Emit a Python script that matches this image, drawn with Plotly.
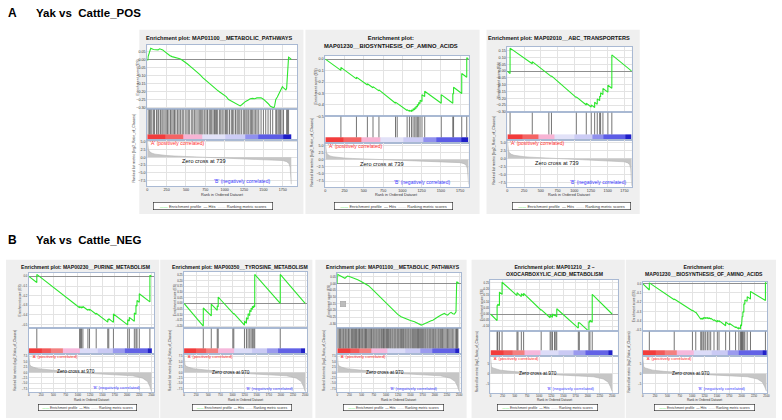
import plotly.graph_objects as go

W, H = 782, 420
FONT = "Liberation Sans, Arial, sans-serif"

# ------------------------------------------------------------------ data
header_a = "Yak vs  Cattle_POS"
header_b = "Yak vs  Cattle_NEG"
zero_cross_a = 739
zero_cross_b = 970

# ranked list metric (anchor points)
a_metric_rank = [0, 3, 8, 15, 30, 60, 100, 160, 250, 350, 480, 600, 739, 900, 1100, 1300, 1500, 1650, 1750, 1800, 1830, 1845, 1855, 1860]
a_metric_value = [5.8, 4.0, 3.0, 2.4, 1.8, 1.3, 1.0, 0.75, 0.55, 0.4, 0.27, 0.15, 0.0, -0.15, -0.3, -0.45, -0.62, -0.8, -1.05, -1.4, -2.0, -3.2, -5.5, -8.6]
b_metric_rank = [0, 5, 20, 50, 90, 200, 425, 600, 763, 970, 1200, 1500, 1800, 2115, 2318, 2419, 2466, 2486, 2500]
b_metric_value = [8.3, 5.5, 3.5, 2.9, 2.5, 1.8, 1.2, 0.8, 0.5, 0.0, -0.35, -0.7, -1.05, -1.5, -2.6, -4.2, -6.5, -8.5, -8.7]

# phenotype colour bar bands
a_band_edges = [0, 230, 464, 708, 1009, 1266, 1438, 1760, 1860]
a_band_colors = ['#f23c3c', '#f46464', '#f7b4d4', '#e2e2f8', '#ccccf5', '#9090ee', '#5c5ce6', '#1e1ec8']
b_band_edges = [0, 257, 450, 696, 1034, 1400, 1709, 1946, 2419, 2500]
b_band_colors = ['#f23c3c', '#f25a5a', '#f38080', '#f6b8dc', '#dcdcf8', '#cacaf4', '#9a9aee', '#6262e6', '#2222c8']

# A1  MAP01100 metabolic pathways
a1_title = "Enrichment plot: MAP01100__METABOLIC_PATHWAYS"
a1_es_rank = [0, 8, 12, 30, 45, 80, 100, 115, 140, 160, 185, 200, 230, 260, 290, 320, 350, 380, 420, 440, 480, 520, 560, 600, 640, 680, 720, 765, 800, 850, 900, 940, 980, 1020, 1050, 1080, 1110, 1140, 1170, 1200, 1220, 1240, 1270, 1300, 1330, 1360, 1390, 1415, 1445, 1470, 1500, 1530, 1560, 1590, 1615, 1635, 1645, 1660, 1680, 1700, 1715, 1730, 1745, 1760, 1790, 1800, 1812, 1825, 1835, 1850, 1860]
a1_es = [0.0, -0.005, 0.02, 0.045, 0.07, 0.063, 0.062, 0.058, 0.06, 0.067, 0.064, 0.06, 0.048, 0.035, 0.025, 0.018, 0.015, 0.012, 0.005, 0.0, -0.012, -0.028, -0.045, -0.06, -0.075, -0.095, -0.115, -0.135, -0.15, -0.17, -0.19, -0.205, -0.218, -0.232, -0.25, -0.258, -0.268, -0.275, -0.285, -0.29, -0.283, -0.272, -0.262, -0.255, -0.245, -0.243, -0.245, -0.24, -0.242, -0.24, -0.248, -0.26, -0.275, -0.292, -0.298, -0.302, -0.29, -0.25, -0.235, -0.215, -0.205, -0.185, -0.17, -0.178, -0.19, -0.18, -0.06, 0.015, 0.012, 0.005, 0.0]
a1_hits = [12, 30, 45, 60, 82, 95, 120, 138, 150, 172, 190, 205, 228, 245, 262, 280, 300, 318, 335, 352, 370, 392, 410, 428, 450, 465, 490, 512, 530, 548, 575, 590, 612, 630, 655, 672, 690, 705, 720, 742, 760, 778, 800, 815, 832, 850, 868, 880, 895, 910, 935, 950, 968, 990, 1010, 1025, 1040, 1062, 1085, 1100, 1118, 1140, 1160, 1175, 1195, 1215, 1240, 1258, 1275, 1290, 1310, 1330, 1345, 1362, 1380, 1400, 1418, 1440, 1470, 1500, 1530, 1560, 1590, 1620, 1660, 1672, 1690, 1705, 1720, 1740, 1760, 1800, 1812, 1825]

# A2  MAP01230 biosynthesis of amino acids
a2_title = "Enrichment plot:<br>MAP01230__BIOSYNTHESIS_OF_AMINO_ACIDS"
a2_es_rank = [0, 202, 202, 404, 404, 546, 546, 619, 619, 696, 696, 911, 911, 933, 933, 1062, 1062, 1092, 1092, 1118, 1118, 1139, 1139, 1161, 1161, 1178, 1178, 1195, 1195, 1212, 1212, 1230, 1230, 1255, 1255, 1290, 1290, 1505, 1505, 1655, 1655, 1665, 1665, 1771, 1771, 1836, 1836, 1860]
a2_es = [0.0, -0.098, -0.072, -0.172, -0.157, -0.226, -0.215, -0.25, -0.24, -0.277, -0.268, -0.385, -0.375, -0.386, -0.378, -0.448, -0.44, -0.456, -0.445, -0.458, -0.443, -0.452, -0.433, -0.443, -0.423, -0.431, -0.41, -0.418, -0.395, -0.403, -0.378, -0.387, -0.358, -0.37, -0.31, -0.327, -0.28, -0.385, -0.31, -0.385, -0.30, -0.305, -0.245, -0.3, -0.125, -0.158, 0.013, 0.0]
a2_hits = [202, 404, 546, 619, 696, 911, 933, 1062, 1092, 1118, 1139, 1161, 1178, 1195, 1212, 1230, 1255, 1290, 1505, 1655, 1665, 1771, 1836]

# A3  MAP02010 ABC transporters
a3_title = "Enrichment plot: MAP02010__ABC_TRANSPORTERS"
a3_es_rank = [0, 40, 40, 372, 372, 620, 620, 659, 659, 1031, 1031, 1180, 1180, 1254, 1254, 1305, 1305, 1344, 1344, 1380, 1380, 1394, 1394, 1429, 1429, 1503, 1503, 1562, 1562, 1860]
a3_es = [0.0, -0.018, 0.17, 0.055, 0.07, -0.03, -0.025, -0.04, -0.035, -0.195, -0.19, -0.25, -0.237, -0.265, -0.249, -0.268, -0.23, -0.245, -0.205, -0.218, -0.185, -0.19, -0.16, -0.172, -0.128, -0.155, -0.104, -0.126, 0.12, 0.0]
a3_hits = [40, 372, 620, 659, 1031, 1180, 1254, 1305, 1344, 1380, 1394, 1429, 1503, 1562]

# B1  MAP00230 purine metabolism
b1_title = "Enrichment plot: MAP00230__PURINE_METABOLISM"
b1_es_rank = [0, 162, 162, 1034, 1034, 1074, 1074, 1101, 1101, 1203, 1203, 1236, 1236, 1372, 1372, 1608, 1608, 1628, 1628, 1723, 1723, 2014, 2014, 2047, 2047, 2149, 2149, 2182, 2182, 2203, 2203, 2250, 2250, 2466, 2466, 2500]
b1_es = [0.0, -0.064, 0.02, -0.325, -0.312, -0.328, -0.315, -0.326, -0.312, -0.352, -0.34, -0.353, -0.34, -0.393, -0.383, -0.475, -0.445, -0.453, -0.44, -0.477, -0.39, -0.503, -0.45, -0.463, -0.425, -0.465, -0.38, -0.393, -0.3, -0.308, -0.25, -0.268, -0.18, -0.265, 0.012, 0.0]
b1_hits = [162, 1034, 1054, 1074, 1101, 1203, 1236, 1372, 1608, 1628, 1723, 2014, 2047, 2149, 2182, 2203, 2250, 2466]

# B2  MAP00350 tyrosine metabolism
b2_title = "Enrichment plot: MAP00350__TYROSINE_METABOLISM"
b2_es_rank = [0, 397, 397, 562, 562, 685, 685, 705, 705, 1007, 1007, 1027, 1027, 1247, 1247, 1288, 1288, 1322, 1322, 1356, 1356, 1384, 1384, 1411, 1411, 1438, 1438, 1459, 1459, 1986, 1986, 2500]
b2_es = [0.0, -0.2, -0.04, -0.11, -0.005, -0.06, -0.02, -0.03, 0.057, -0.088, -0.083, -0.093, -0.087, -0.19, -0.155, -0.175, -0.125, -0.14, -0.09, -0.107, -0.06, -0.073, -0.04, -0.053, -0.025, -0.038, -0.02, -0.03, 0.256, 0.0, 0.256, 0.0]
b2_hits = [397, 562, 685, 705, 1007, 1027, 1247, 1288, 1322, 1356, 1384, 1411, 1438, 1459, 1986]

# B3  MAP01100 metabolic pathways
b3_title = "Enrichment plot: MAP01100__METABOLIC_PATHWAYS"
b3_es_rank = [0, 7, 30, 60, 88, 120, 156, 185, 211, 260, 300, 361, 420, 480, 565, 640, 700, 769, 830, 900, 973, 1040, 1110, 1177, 1240, 1310, 1381, 1440, 1500, 1585, 1640, 1690, 1721, 1755, 1800, 1857, 1890, 1925, 1960, 1993, 2060, 2129, 2160, 2197, 2230, 2265, 2300, 2333, 2370, 2401, 2435, 2449, 2475, 2500]
b3_es = [0.0, 0.07, 0.065, 0.06, 0.052, 0.048, 0.04, 0.05, 0.057, 0.052, 0.047, 0.04, 0.03, 0.018, 0.0025, -0.015, -0.035, -0.06, -0.083, -0.107, -0.135, -0.16, -0.185, -0.21, -0.23, -0.247, -0.26, -0.268, -0.276, -0.285, -0.295, -0.303, -0.31, -0.305, -0.297, -0.285, -0.283, -0.278, -0.274, -0.268, -0.25, -0.235, -0.23, -0.223, -0.23, -0.235, -0.222, -0.215, -0.225, -0.228, -0.21, 0.015, 0.008, 0.0]
b3_hits = [10, 35, 52, 70, 95, 118, 135, 160, 178, 200, 225, 240, 262, 290, 310, 330, 352, 375, 392, 410, 438, 455, 472, 500, 520, 545, 565, 580, 600, 625, 648, 670, 690, 705, 730, 750, 772, 795, 815, 838, 860, 880, 905, 925, 948, 965, 985, 1010, 1030, 1050, 1075, 1095, 1120, 1140, 1165, 1185, 1205, 1230, 1250, 1270, 1295, 1318, 1340, 1360, 1385, 1405, 1428, 1450, 1470, 1495, 1515, 1540, 1560, 1580, 1600, 1620, 1640, 1655, 1670, 1690, 1710, 1730, 1750, 1772, 1795, 1815, 1840, 1860, 1885, 1905, 1925, 1950, 1975, 2000, 2020, 2045, 2070, 2090, 2115, 2140, 2160, 2185, 2210, 2235, 2260, 2285, 2310, 2335, 2360, 2390, 2420, 2445, 2460, 2475]

# B4  MAP01210 2-oxocarboxylic acid metabolism
b4_title = "Enrichment plot: MAP01210__2 \u2013<br>OXOCARBOXYLIC_ACID_METABOLISM"
b4_es_rank = [0, 136, 136, 150, 150, 184, 184, 238, 238, 545, 545, 634, 634, 681, 681, 1042, 1042, 1226, 1226, 1274, 1274, 1315, 1315, 1362, 1362, 1805, 1805, 1826, 1826, 2023, 2023, 2044, 2044, 2091, 2091, 2500]
b4_es = [0.0, -0.053, 0.07, 0.065, 0.08, 0.068, 0.176, 0.157, 0.255, 0.148, 0.171, 0.14, 0.163, 0.147, 0.166, 0.03, 0.035, -0.03, -0.008, -0.026, 0.0, -0.015, -0.005, -0.022, 0.042, -0.113, -0.068, -0.075, -0.07, -0.14, -0.06, -0.067, -0.05, -0.066, 0.158, 0.0]
b4_hits = [136, 150, 184, 238, 545, 565, 634, 681, 1042, 1226, 1247, 1274, 1315, 1342, 1362, 1805, 1826, 2023, 2044, 2091]

# B5  MAP01230 biosynthesis of amino acids
b5_title = "Enrichment plot:<br>MAP01230__BIOSYNTHESIS_OF_AMINO_ACIDS"
b5_es_rank = [0, 134, 134, 637, 637, 1005, 1005, 1072, 1072, 1173, 1173, 1193, 1193, 1220, 1220, 1240, 1240, 1273, 1273, 1307, 1307, 1340, 1340, 1374, 1374, 1441, 1441, 1508, 1508, 1542, 1542, 1676, 1676, 1756, 1756, 1877, 1877, 1944, 1944, 1977, 1977, 1997, 1997, 2011, 2011, 2024, 2024, 2044, 2044, 2064, 2064, 2111, 2111, 2178, 2178, 2480, 2480, 2500]
b5_es = [0.0, -0.069, 0.007, -0.172, -0.165, -0.29, -0.285, -0.31, -0.305, -0.38, -0.37, -0.38, -0.37, -0.38, -0.365, -0.372, -0.36, -0.372, -0.36, -0.372, -0.362, -0.375, -0.365, -0.378, -0.37, -0.395, -0.385, -0.41, -0.395, -0.405, -0.395, -0.45, -0.41, -0.44, -0.425, -0.47, -0.46, -0.485, -0.47, -0.48, -0.44, -0.447, -0.4, -0.405, -0.35, -0.355, -0.3, -0.307, -0.215, -0.222, -0.175, -0.19, -0.14, -0.165, -0.085, -0.18, 0.012, 0.0]
b5_hits = [134, 637, 1005, 1072, 1173, 1193, 1220, 1240, 1273, 1307, 1340, 1374, 1441, 1508, 1542, 1676, 1756, 1877, 1944, 1977, 1997, 2011, 2024, 2044, 2064, 2111, 2178, 2480]

# ------------------------------------------------------------------ layout spec (pixels)
A = dict(metric=(a_metric_rank, a_metric_value), bands=(a_band_edges, a_band_colors), zc=zero_cross_a)
B = dict(metric=(b_metric_rank, b_metric_value), bands=(b_band_edges, b_band_colors), zc=zero_cross_b)

panels = [
    dict(grp=A, title=a1_title, es=(a1_es_rank, a1_es), hits=a1_hits, left=147, right=298, es_top=45, es_bot=110, hit_bot=141, cb=0.24, rank_bot=187,
         xr=[0, 1940], esr=[-0.3125, 0.092], esd=0.05, esf='.2f', rr=[-9.2, 5.4], rd=2.5, rf='.1f', title_y=38, title_x=219, tfs=5.6,
         leg_y=207, leg_x=213, leg_w=118, bg=(139, 30, 304, 215), xt_y=196, a_y=144, z_y=162, b_x=242, b_y=182, big=True),
    dict(grp=A, title=a2_title, es=(a2_es_rank, a2_es), hits=a2_hits, left=326, right=470, es_top=56, es_bot=117, hit_bot=144, cb=0.29, rank_bot=188,
         xr=[0, 1860], esr=[-0.5, 0.03], esd=0.1, esf='.1f', rr=[-9.6, 5.7], rd=2.5, rf='.1f', title_y=42.5, title_x=392, tfs=5.8,
         leg_y=207, leg_x=395, leg_w=117, bg=(306, 30, 481, 215), xt_y=196, a_y=146.5, z_y=165, b_x=423, b_y=183, big=True),
    dict(grp=A, title=a3_title, es=(a3_es_rank, a3_es), hits=a3_hits, left=509, right=634, es_top=47, es_bot=113, hit_bot=141, cb=0.27, rank_bot=188,
         xr=[0, 1860], esr=[-0.305, 0.18], esd=0.05, esf='.2f', rr=[-9.0, 5.7], rd=2.5, rf='.1f', title_y=38, title_x=561, tfs=5.6,
         leg_y=207, leg_x=573, leg_w=117, bg=(488, 30, 642, 215), xt_y=196, a_y=144, z_y=164, b_x=600, b_y=183, big=True),
    dict(grp=B, title=b1_title, es=(b1_es_rank, b1_es), hits=b1_hits, left=28, right=154, es_top=274, es_bot=330, hit_bot=356, cb=0.30, rank_bot=394,
         xr=[0, 2554], esr=[-0.54, 0.038], esd=0.1, esf='.1f', rr=[-9.1, 8.5], rd=2.5, rf='.1f', title_y=268, title_x=85, tfs=5.1,
         leg_y=409, leg_x=87, leg_w=97, bg=(5, 261, 159, 420), xt_y=401.5, a_y=358.5, z_y=373.5, b_x=117, b_y=389.5, big=False),
    dict(grp=B, title=b2_title, es=(b2_es_rank, b2_es), hits=b2_hits, left=184, right=308, es_top=273, es_bot=330, hit_bot=356, cb=0.30, rank_bot=394,
         xr=[0, 2547], esr=[-0.22, 0.28], esd=0.05, esf='.2f', rr=[-9.1, 8.5], rd=2.5, rf='.1f', title_y=268, title_x=240, tfs=5.1,
         leg_y=409, leg_x=242, leg_w=98, bg=(160, 261, 313, 420), xt_y=401.5, a_y=358.5, z_y=374, b_x=270, b_y=390, big=False),
    dict(grp=B, title=b3_title, es=(b3_es_rank, b3_es), hits=b3_hits, left=338, right=462, es_top=274, es_bot=330, hit_bot=356, cb=0.30, rank_bot=394,
         xr=[0, 2530], esr=[-0.335, 0.082], esd=0.05, esf='.2f', rr=[-9.1, 8.5], rd=2.5, rf='.1f', title_y=268, title_x=394, tfs=5.1,
         leg_y=409, leg_x=395, leg_w=99, bg=(316, 261, 468, 420), xt_y=401.5, a_y=358.5, z_y=374, b_x=415, b_y=390, big=False),
    dict(grp=B, title=b4_title, es=(b4_es_rank, b4_es), hits=b4_hits, left=492, right=620, es_top=281, es_bot=333, hit_bot=358, cb=0.32, rank_bot=395,
         xr=[0, 2617], esr=[-0.14, 0.276], esd=0.05, esf='.2f', rr=[-9.65, 8.7], rd=5, rf='.0f', title_y=272, title_x=556, tfs=5.1,
         leg_y=409, leg_x=549, leg_w=99, bg=(473, 261, 627, 420), xt_y=402, a_y=360.5, z_y=375, b_x=573, b_y=390, big=False),
    dict(grp=B, title=b5_title, es=(b5_es_rank, b5_es), hits=b5_hits, left=645, right=770, es_top=283, es_bot=333, hit_bot=358, cb=0.32, rank_bot=395,
         xr=[0, 2513], esr=[-0.51, 0.02], esd=0.1, esf='.1f', rr=[-9.65, 8.7], rd=5, rf='.0f', title_y=271.5, title_x=707, tfs=5.1,
         leg_y=409, leg_x=707, leg_w=99, bg=(628, 261, 779, 420), xt_y=402, a_y=360.5, z_y=375.5, b_x=725, b_y=390.5, big=False),
]

BORDER = '#a9b9d3'
GRID = '#e3e3e3'


def px(x):
    return x / W


def py(y):
    return 1 - y / H


fig = go.Figure()
axes = {}
shapes = []
ann = []

for i, p in enumerate(panels):
    g = p['grp']
    big = p['big']
    tickf = dict(family=FONT, size=3.7 if big else 2.8, color='#333333')
    ks = [3 * i + 1, 3 * i + 2, 3 * i + 3]
    sfx = ['' if k == 1 else str(k) for k in ks]
    tops = [p['es_top'], p['es_bot'], p['hit_bot']]
    bots = [p['es_bot'], p['hit_bot'], p['rank_bot']]

    # panel background + white plot area
    x0, y0, x1, y1 = p['bg']
    shapes.append(dict(type='rect', xref='paper', yref='paper', x0=px(x0), x1=px(x1), y0=py(y1), y1=py(y0),
                       fillcolor='#efefef', line=dict(width=0), layer='below'))
    shapes.append(dict(type='rect', xref='paper', yref='paper', x0=px(p['left']), x1=px(p['right']),
                       y0=py(p['rank_bot']), y1=py(p['es_top']), fillcolor='white', line=dict(width=0), layer='below'))

    for j in range(3):
        s = sfx[j]
        xa = dict(domain=[px(p['left']), px(p['right'])], range=p['xr'], anchor='y' + s, showline=True, mirror=True,
                  linecolor=BORDER, linewidth=0.8, zeroline=False, ticks='', tick0=0, dtick=250, showgrid=(j != 1),
                  gridcolor=GRID, gridwidth=0.6, showticklabels=(j == 2), tickfont=tickf, tickangle=0, fixedrange=True)
        ya = dict(domain=[py(bots[j]), py(tops[j])], anchor='x' + s, showline=True, mirror=True, linecolor=BORDER,
                  linewidth=0.8, ticks='', fixedrange=True, tickfont=tickf)
        if j == 0:
            ya.update(range=p['esr'], dtick=p['esd'], tick0=0, tickformat=p['esf'], showgrid=True, gridcolor=GRID,
                      gridwidth=0.6, zeroline=True, zerolinecolor='#8f8f8f', zerolinewidth=0.8)
        elif j == 1:
            ya.update(range=[-p['cb'], 1], showgrid=False, zeroline=False, showticklabels=False)
        else:
            ya.update(range=p['rr'], dtick=p['rd'], tick0=0, tickformat=p['rf'], showgrid=True, gridcolor=GRID,
                      gridwidth=0.6, zeroline=False)
        axes['xaxis' + s] = xa
        axes['yaxis' + s] = ya

    # enrichment profile
    fig.add_trace(go.Scatter(x=p['es'][0], y=p['es'][1], mode='lines', line=dict(color='#2ee62e', width=1.1),
                             xaxis='x' + sfx[0], yaxis='y' + sfx[0], showlegend=False, hoverinfo='skip'))
    # hits
    hx, hy = [], []
    for h in p['hits']:
        hx += [h, h, None]
        hy += [0, 1, None]
    fig.add_trace(go.Scatter(x=hx, y=hy, mode='lines', line=dict(color='#3a3a3a', width=0.7),
                             xaxis='x' + sfx[1], yaxis='y' + sfx[1], showlegend=False, hoverinfo='skip'))
    # colour bar
    edges, cols = g['bands']
    n = len(cols)
    fig.add_trace(go.Heatmap(x=edges, y=[-p['cb'], 0], z=[list(range(n))], zmin=0, zmax=n - 1,
                             colorscale=[[k / (n - 1), c] for k, c in enumerate(cols)], showscale=False,
                             xaxis='x' + sfx[1], yaxis='y' + sfx[1], hoverinfo='skip'))
    # ranked list metric
    mr, mv = g['metric']
    fig.add_trace(go.Scatter(x=mr, y=mv, mode='lines', fill='tozeroy', fillcolor='#c6c6c6',
                             line=dict(color='#b4b4b4', width=0.6), xaxis='x' + sfx[2], yaxis='y' + sfx[2],
                             showlegend=False, hoverinfo='skip'))

    lab = 5.0 if big else 4.2
    zfs = 5.6 if big else 4.8
    # title
    ann.append(dict(text='<b>' + p['title'] + '</b>', x=px(p['title_x']), y=py(p['title_y']), xref='paper', yref='paper',
                    showarrow=False, xanchor='center', yanchor='middle', font=dict(family=FONT, size=p['tfs'], color='#111')))
    # y titles
    ann.append(dict(text='Enrichment score (ES)', x=px(p['left'] - 9), y=py((p['es_top'] + p['es_bot']) / 2),
                    xref='paper', yref='paper', showarrow=False, textangle=-90, xanchor='center', yanchor='middle',
                    font=dict(family=FONT, size=3.6 if big else 3.2, color='#333')))
    ann.append(dict(text='Ranked list metric (log2_Ratio_of_Classes)', x=px(p['left'] - 13.5),
                    y=py((p['es_bot'] + p['rank_bot']) / 2), xref='paper', yref='paper', showarrow=False,
                    textangle=-90, xanchor='center', yanchor='middle', font=dict(family=FONT, size=3.6 if big else 3.2, color='#333')))
    # x title
    ann.append(dict(text='Rank in Ordered Dataset', x=px((p['left'] + p['right']) / 2), y=py(p['xt_y']),
                    xref='paper', yref='paper', showarrow=False, xanchor='center', yanchor='middle',
                    font=dict(family=FONT, size=3.8 if big else 3.2, color='#333')))
    # rank plot texts
    ann.append(dict(text="'A' (positively correlated)", x=px(p['left'] + 1), y=py(p['a_y']), xref='paper', yref='paper',
                    showarrow=False, xanchor='left', yanchor='middle', font=dict(family=FONT, size=lab, color='#ff2a2a')))
    zx = p['left'] + (p['right'] - p['left']) * g['zc'] / p['xr'][1]
    ann.append(dict(text='Zero cross at %d' % g['zc'], x=px(zx), y=py(p['z_y']), xref='paper', yref='paper',
                    showarrow=False, xanchor='center', yanchor='middle', font=dict(family=FONT, size=zfs, color='#111')))
    ann.append(dict(text="'B' (negatively correlated)", x=px(p['b_x']), y=py(p['b_y']), xref='paper', yref='paper',
                    showarrow=False, xanchor='center', yanchor='middle', font=dict(family=FONT, size=lab, color='#3a3aff')))
    # legend box
    ann.append(dict(text="<span style='color:#22dd22'>\u2014\u2014</span> Enrichment profile  "
                         "<span style='color:#222222'>\u2014</span> Hits  "
                         "<span style='color:#c4c4c4'>\u2014\u2014</span> Ranking metric scores",
                    x=px(p['leg_x']), y=py(p['leg_y']), xref='paper', yref='paper', showarrow=False,
                    xanchor='center', yanchor='middle', width=p['leg_w'], height=6 if big else 5,
                    bgcolor='white', bordercolor='#222', borderwidth=0.6, borderpad=0.5,
                    font=dict(family=FONT, size=4.0 if big else 3.4, color='#333')))

# small grey label box in B3 ES panel
ann.append(dict(text='&nbsp;&nbsp;&nbsp;&nbsp;&nbsp;', x=px(343.5), y=py(308), xref='paper', yref='paper', showarrow=False,
                bgcolor='#bdbdbd', bordercolor='#9a9a9a', borderwidth=0.4, font=dict(family=FONT, size=2.5)))

# section headers
for lab_txt, hdr, yy in (('A', header_a, 13), ('B', header_b, 241)):
    ann.append(dict(text='<b>' + lab_txt + '</b>', x=px(5), y=py(yy), xref='paper', yref='paper', showarrow=False,
                    xanchor='left', yanchor='middle', font=dict(family=FONT, size=12, color='black')))
    ann.append(dict(text='<b>' + hdr + '</b>', x=px(33), y=py(yy), xref='paper', yref='paper', showarrow=False,
                    xanchor='left', yanchor='middle', font=dict(family=FONT, size=11.5, color='black')))

fig.update_layout(width=W, height=H, margin=dict(l=0, r=0, t=0, b=0), paper_bgcolor='white',
                  plot_bgcolor='rgba(0,0,0,0)', showlegend=False, shapes=shapes, annotations=ann,
                  font=dict(family=FONT), **axes)

fig.write_html("out.html")
